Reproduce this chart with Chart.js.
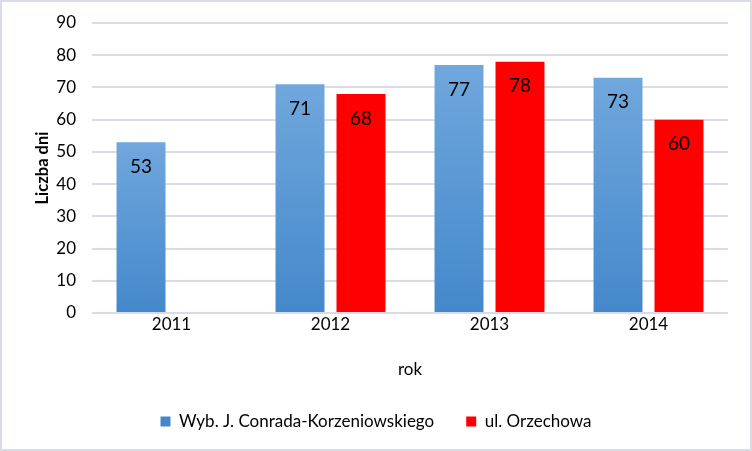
<!DOCTYPE html>
<html>
<head>
<meta charset="utf-8">
<script src="https://cdn.jsdelivr.net/npm/chart.js@4"></script>
<style>
html,body{margin:0;padding:0;background:#fff;}
#wrap{position:relative;width:752px;height:451px;box-sizing:border-box;border:2px solid #d9dde3;}
canvas{position:absolute;left:-2px;top:-2px;}
</style>
</head>
<body>
<div id="wrap"><canvas id="c" width="752" height="451"></canvas></div>
<script>
const categories = ['2011', '2012', '2013', '2014'];
const seriesNames = ['Wyb. J. Conrada-Korzeniowskiego', 'ul. Orzechowa'];
const conradaValues = [53, 71, 77, 73];
const orzechowaValues = [null, 68, 78, 60];
const yTicks = [0, 10, 20, 30, 40, 50, 60, 70, 80, 90];
const xTitle = 'rok';
const yTitle = 'Liczba dni';

const FONT = 'Lato, "Open Sans", sans-serif';

function blueGradient(ctx) {
  const chart = ctx.chart;
  if (ctx.type !== 'data' || !chart.chartArea) return '#5b9bd5';
  const y = chart.scales.y;
  const v = ctx.raw;
  if (v == null) return '#5b9bd5';
  const top = y.getPixelForValue(v);
  const bottom = y.getPixelForValue(0);
  const g = chart.ctx.createLinearGradient(0, top, 0, bottom);
  g.addColorStop(0, '#70a7dd');
  g.addColorStop(1, '#4488cb');
  return g;
}

const valueLabels = {
  id: 'valueLabels',
  afterDatasetsDraw(chart) {
    const c = chart.ctx;
    c.save();
    c.font = '19px ' + FONT;
    c.fillStyle = '#000';
    c.textAlign = 'center';
    c.textBaseline = 'middle';
    chart.data.datasets.forEach((ds, i) => {
      const meta = chart.getDatasetMeta(i);
      meta.data.forEach((bar, j) => {
        const v = ds.data[j];
        if (v == null) return;
        c.fillText(String(v), bar.x, bar.y + 24.5);
      });
    });
    c.restore();
  }
};

new Chart(document.getElementById('c'), {
  type: 'bar',
  data: {
    labels: categories,
    datasets: [
      { label: seriesNames[0], data: conradaValues, backgroundColor: blueGradient,
        categoryPercentage: 0.767, barPercentage: 0.803 },
      { label: seriesNames[1], data: orzechowaValues, backgroundColor: '#ff0000',
        categoryPercentage: 0.767, barPercentage: 0.803 }
    ]
  },
  options: {
    responsive: false,
    animation: false,
    devicePixelRatio: 1,
    layout: { padding: { left: 0, right: 0, top: 23, bottom: 11 } },
    plugins: {
      legend: {
        position: 'bottom',
        labels: {
          font: { family: FONT, size: 17 },
          color: '#000',
          boxWidth: 10,
          boxHeight: 10,
          padding: 32
        }
      },
      tooltip: { enabled: false }
    },
    scales: {
      x: {
        afterFit(scale) { scale.height = 68; },
        grid: { display: false, drawTicks: false, tickLength: 0 },
        border: { display: false },
        ticks: { font: { family: FONT, size: 17 }, color: '#000', padding: 1 },
        title: { display: true, text: xTitle, font: { family: FONT, size: 17 }, color: '#000', padding: { top: 0, bottom: 1 } }
      },
      y: {
        min: 0, max: 90,
        afterBuildTicks(scale) { scale.ticks = yTicks.map(v => ({ value: v })); },
        afterFit(scale) { scale.width = 92; scale.paddingTop = 0; scale.paddingBottom = 0; },
        grid: { color: '#d9dde3', lineWidth: 2, drawTicks: false },
        border: { display: false },
        ticks: { font: { family: FONT, size: 17 }, color: '#000', padding: 16 },
        title: { display: true, text: yTitle, font: { family: FONT, size: 16.5, weight: 'bold' }, color: '#000', padding: { top: 33, bottom: 0 } }
      },
      yRight: {
        position: 'right',
        display: true,
        afterFit(scale) { scale.width = 24; scale.paddingTop = 0; scale.paddingBottom = 0; },
        grid: { display: false, drawTicks: false },
        border: { display: false },
        ticks: { display: false }
      }
    }
  },
  plugins: [valueLabels]
});
</script>
</body>
</html>
